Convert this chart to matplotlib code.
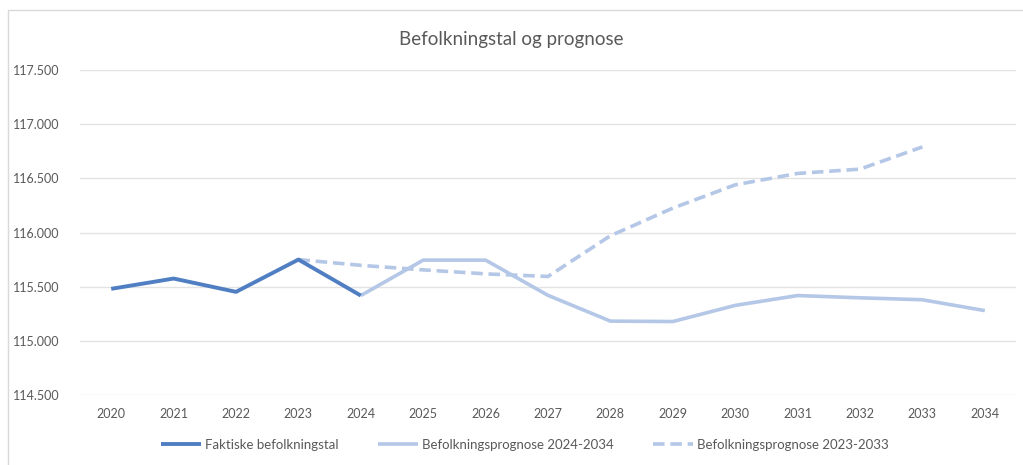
import matplotlib
matplotlib.use("Agg")
import matplotlib.pyplot as plt
from matplotlib.ticker import FuncFormatter
from matplotlib.patches import Rectangle

years = [str(y) for y in range(2020, 2035)]
faktiske = [115480, 115575, 115452, 115750, 115418]
prognose_2024 = [115418, 115745, 115745, 115420, 115182, 115178, 115327, 115418, 115397, 115379, 115279]
prognose_2023 = [115750, 115697, 115655, 115618, 115594, 115970, 116225, 116440, 116545, 116585, 116790]

plt.rcParams['font.family'] = ['Lato', 'DejaVu Sans']

W, H = 1023, 465
fig = plt.figure(figsize=(W / 100, H / 100), dpi=100)
fig.patch.set_facecolor('white')

# chart border
fig.patches.append(Rectangle((8 / W, -0.1), 1.2, 1 - 10 / H + 0.1, transform=fig.transFigure,
                             fill=False, edgecolor='#d9d9d9', linewidth=1.0))

left, right, top, bottom = 80, 1016, 70, 395
ax = fig.add_axes([left / W, 1 - bottom / H, (right - left) / W, (bottom - top) / H])

x_all = list(range(len(years)))
ax.plot(x_all[0:5], faktiske, color='#4F7EC2', linewidth=2.8, solid_capstyle='butt',
        label='Faktiske befolkningstal', zorder=4)
ax.plot(x_all[4:], prognose_2024, color='#B4C7E7', linewidth=2.6, solid_capstyle='butt',
        label='Befolkningsprognose 2024-2034', zorder=3)
ax.plot(x_all[3:14], prognose_2023, color='#B4C7E7', linewidth=2.6, linestyle=(0, (3.2, 1.6)),
        dash_capstyle='butt', label='Befolkningsprognose 2023-2033', zorder=2)

ax.set_xlim(-0.5, len(years) - 0.5)
ax.set_ylim(114500, 117500)
ax.set_yticks(range(114500, 117501, 500))
ax.yaxis.set_major_formatter(FuncFormatter(lambda v, p: f"{int(v):,}".replace(",", ".")))
ax.set_xticks(x_all)
ax.set_xticklabels(years)

ax.grid(axis='y', color='#e3e3e3', linewidth=1.0)
ax.set_axisbelow(True)
for s in ax.spines.values():
    s.set_visible(False)
ax.tick_params(axis='both', length=0, labelsize=9, labelcolor='#595959')
ax.tick_params(axis='y', pad=15)
ax.tick_params(axis='x', pad=9)

fig.text(0.5, 1 - 40 / H, 'Befolkningstal og prognose', ha='center', va='center',
         fontsize=13.5, color='#595959')

fig.legend(loc='center', bbox_to_anchor=(0.513, 1 - 445 / H), ncol=3, frameon=False,
           fontsize=9.5, handlelength=3.0, columnspacing=3.0, handletextpad=0.3,
           labelcolor='#595959')

fig.savefig('out.png', dpi=100, facecolor='white')
